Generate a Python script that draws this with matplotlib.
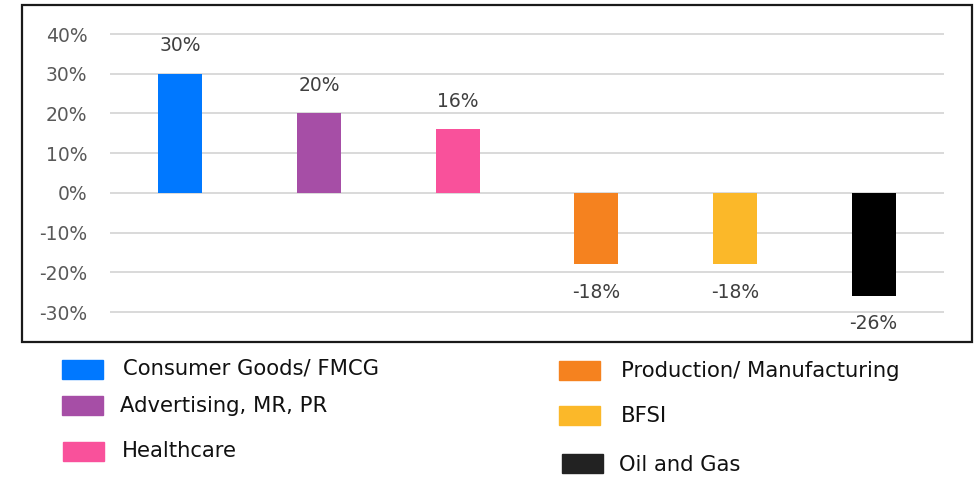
import matplotlib.pyplot as plt
from matplotlib.patches import Rectangle
from matplotlib.ticker import PercentFormatter

plt.rcParams["axes.unicode_minus"] = False

categories = ["Consumer Goods/ FMCG", "Advertising, MR, PR", "Healthcare",
              "Production/ Manufacturing", "BFSI", "Oil and Gas"]
growth = [0.30, 0.20, 0.16, -0.18, -0.18, -0.26]
colors = ["#0078FF", "#A64EA6", "#F9519B", "#F5821F", "#FBB829", "#000000"]
legend_colors = ["#0078FF", "#A64EA6", "#F9519B", "#F5821F", "#FBB829", "#222222"]
yticks = [-0.3, -0.2, -0.1, 0.0, 0.1, 0.2, 0.3, 0.4]

W, H = 979, 478
fig = plt.figure(figsize=(W / 100, H / 100), dpi=100)


def fx(px):
    return px / W


def fy(py):
    return 1 - py / H


ax = fig.add_axes([fx(111), fy(312), fx(943) - fx(111), fy(34) - fy(312)])
x = range(len(categories))
ax.bar(x, growth, width=0.317, color=colors, zorder=3)
ax.set_xlim(-0.5, len(categories) - 0.5)
ax.set_ylim(-0.30, 0.40)
ax.set_yticks(yticks)
ax.yaxis.set_major_formatter(PercentFormatter(1.0, decimals=0))
ax.grid(axis="y", color="#D9D9D9", linewidth=1.4, zorder=0)
for gl in ax.get_ygridlines():
    gl.set_clip_on(False)
ax.set_xticks([])
for s in ax.spines.values():
    s.set_visible(False)
ax.tick_params(axis="y", length=0, pad=17, labelsize=13.5, labelcolor="#595959")

for i, v in enumerate(growth):
    off = 20 if v > 0 else -20
    ax.annotate(f"{v * 100:.0f}%", (i, v), xytext=(0, off), textcoords="offset points",
                ha="center", va="center", fontsize=13.5, color="#404040")

# chart border
fig.patches.append(Rectangle((fx(22), fy(342)), fx(972) - fx(22), fy(5) - fy(342),
                             transform=fig.transFigure, fill=False,
                             edgecolor="#1a1a1a", linewidth=1.6))

# legend laid out by hand
legend_pos = [(62, 360, 123, 369), (62, 396, 120, 406), (63, 442, 122, 451),
              (559, 361, 621, 371), (559, 406, 621, 416), (562, 454, 619, 465)]
for (rx, ry, tx, ty), c, name in zip(legend_pos, legend_colors, categories):
    fig.patches.append(Rectangle((fx(rx), fy(ry + 19)), fx(41), 19 / H,
                                 transform=fig.transFigure, color=c))
    fig.text(fx(tx), fy(ty), name, ha="left", va="center", fontsize=15.2, color="#111111")

fig.savefig("out.png", dpi=100)
